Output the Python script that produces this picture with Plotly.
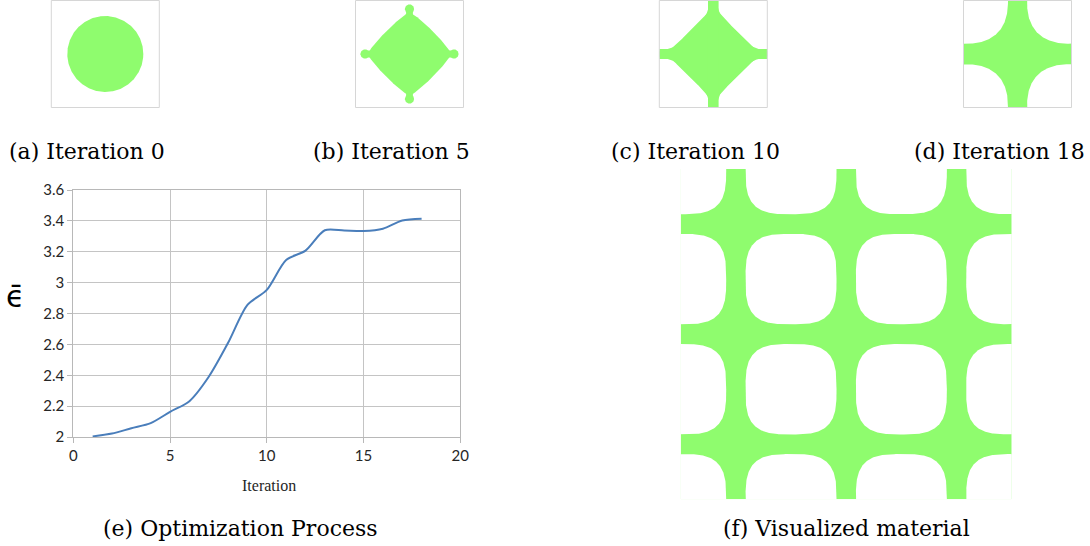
import numpy as np
import plotly.graph_objects as go

# ---------------- data ----------------
iterations = [1, 2, 3, 4, 5, 6, 7, 8, 9, 10, 11, 12, 13, 14, 15, 16, 17, 18]
epsilon_bar = [2.004, 2.022, 2.057, 2.090, 2.163, 2.232, 2.390, 2.610, 2.856, 2.953,
               3.147, 3.207, 3.339, 3.337, 3.334, 3.349, 3.402, 3.414]
x_ticks = [0, 5, 10, 15, 20]
y_ticks = [2, 2.2, 2.4, 2.6, 2.8, 3, 3.2, 3.4, 3.6]
captions = ["(a) Iteration 0", "(b) Iteration 5", "(c) Iteration 10", "(d) Iteration 18",
            "(e) Optimization Process", "(f) Visualized material"]

W, H = 1090, 546
GREEN = "#8ffc6e"
BOX = "#d6d6d6"


def dom_x(a, b):
    return [a / W, b / W]


def dom_y(top, bottom):
    return [1 - bottom / H, 1 - top / H]


def squircle(cx, cy, a, b, p, n=400):
    t = np.linspace(0, 2 * np.pi, n)
    c, s = np.cos(t), np.sin(t)
    x = cx + a * np.sign(c) * np.abs(c) ** (2 / p)
    y = cy + b * np.sign(s) * np.abs(s) ** (2 / p)
    return x, y


fig = go.Figure()

# ---------------- (e) line chart ----------------
fig.add_trace(go.Scatter(
    x=iterations, y=epsilon_bar, mode="lines",
    line=dict(color="#4a7ebb", width=2, shape="spline", smoothing=0.8),
    xaxis="x", yaxis="y", showlegend=False, hoverinfo="x+y"))

# ---------------- panels (a)-(d) ----------------
panel_x = [(51.3, 159.3), (355.5, 463.5), (659.3, 767.3), (963.5, 1071.5)]
panel_top, panel_bot = 0.5, 107.5
fill_kw = dict(mode="lines", fill="toself", fillcolor=GREEN, line=dict(width=0, color=GREEN),
               showlegend=False, hoverinfo="skip")
hole_kw = dict(mode="lines", fill="toself", fillcolor="white", line=dict(width=0, color="white"),
               showlegend=False, hoverinfo="skip")

# (a) circle
x, y = squircle(0, 0, 38, 38, 2)
fig.add_trace(go.Scatter(x=x, y=y, xaxis="x2", yaxis="y2", **fill_kw))
# (b) diamond with knobs
x, y = squircle(0, 0, 42, 42, 1.15)
fig.add_trace(go.Scatter(x=x, y=y, xaxis="x3", yaxis="y3", **fill_kw))
for (kx, ky) in [(44.5, 0), (-44.5, 0), (0, 45), (0, -45)]:
    x, y = squircle(kx, ky, 4.6, 4.6, 2, 80)
    fig.add_trace(go.Scatter(x=x, y=y, xaxis="x3", yaxis="y3", **fill_kw))
    if kx != 0:
        xs = [np.sign(kx) * 36, kx, kx, np.sign(kx) * 36]
        ys = [-3.4, -3.4, 3.4, 3.4]
    else:
        xs = [-3.4, -3.4, 3.4, 3.4]
        ys = [np.sign(ky) * 36, ky, ky, np.sign(ky) * 36]
    fig.add_trace(go.Scatter(x=xs, y=ys, xaxis="x3", yaxis="y3", **fill_kw))
# (c) diamond body + thin stems + fillets
x, y = squircle(0, 0, 48, 48, 0.95, 800)
fig.add_trace(go.Scatter(x=x, y=y, xaxis="x4", yaxis="y4", **fill_kw))
x, y = squircle(0, 0, 80, 80, 0.5, 2000)
fig.add_trace(go.Scatter(x=x, y=y, xaxis="x4", yaxis="y4", **fill_kw))
fig.add_trace(go.Scatter(x=[-60, 60, 60, -60], y=[-5, -5, 5, 5], xaxis="x4", yaxis="y4", **fill_kw))
fig.add_trace(go.Scatter(x=[-5.3, 5.3, 5.3, -5.3], y=[-60, -60, 60, 60], xaxis="x4", yaxis="y4", **fill_kw))
# (d) cross = square minus four corner holes
fig.add_trace(go.Scatter(x=[-54, 54, 54, -54], y=[-54, -54, 54, 54], xaxis="x5", yaxis="y5", **fill_kw))
for (hx, hy) in [(-54, -54), (54, -54), (54, 54), (-54, 54)]:
    x, y = squircle(hx, hy, 44.5, 43.8, 2.5)
    fig.add_trace(go.Scatter(x=x, y=y, xaxis="x5", yaxis="y5", **hole_kw))

# ---------------- (f) visualized material ----------------
fx0, fx1, fy0, fy1 = 680.7, 1011.7, 169.0, 499.3
fw, fh = fx1 - fx0, fy1 - fy0
fig.add_trace(go.Scatter(x=[0, fw, fw, 0], y=[0, 0, fh, fh], xaxis="x6", yaxis="y6", **fill_kw))
for i in range(4):
    for j in range(4):
        x, y = squircle(i * fw / 3, j * fh / 3, 45.5, 45.2, 3.2)
        fig.add_trace(go.Scatter(x=x, y=y, xaxis="x6", yaxis="y6", **hole_kw))

# ---------------- layout ----------------
axis_off = dict(showgrid=False, zeroline=False, showticklabels=False, ticks="",
                showline=False, fixedrange=True, automargin=False)
tick_font = dict(family="Lato", size=15, color="#262626")
layout = dict(
    width=W, height=H, margin=dict(l=0, r=0, t=0, b=0, pad=0, autoexpand=False),
    paper_bgcolor="white", plot_bgcolor="white", showlegend=False,
    xaxis=dict(domain=dom_x(73.3, 460.3), range=[0, 20], tickvals=x_ticks,
               showgrid=True, gridcolor="#c4c4c4", gridwidth=1, zeroline=False,
               showline=True, linecolor="#b8b8b8", linewidth=1, mirror=True,
               ticks="outside", ticklen=5, tickcolor="#b8b8b8", automargin=False,
               tickfont=tick_font, anchor="y"),
    yaxis=dict(domain=dom_y(190, 437), range=[2, 3.6], tickvals=y_ticks,
               ticktext=[("%g" % v) for v in y_ticks],
               showgrid=True, gridcolor="#c4c4c4", gridwidth=1, zeroline=False,
               showline=True, linecolor="#b8b8b8", linewidth=1, mirror=True,
               ticks="outside", ticklen=5, tickcolor="#b8b8b8", automargin=False,
               tickfont=tick_font, anchor="x"),
)
for k, (a, b) in enumerate(panel_x):
    n = k + 2
    layout["xaxis%d" % n] = dict(axis_off, domain=dom_x(a, b), range=[-54, 54], anchor="y%d" % n)
    layout["yaxis%d" % n] = dict(axis_off, domain=dom_y(panel_top, panel_bot),
                                 range=[-53.5, 53.5], anchor="x%d" % n)
layout["xaxis6"] = dict(axis_off, domain=dom_x(fx0, fx1), range=[0, fw], anchor="y6")
layout["yaxis6"] = dict(axis_off, domain=dom_y(fy0, fy1), range=[0, fh], anchor="x6")

shapes = []
for (a, b) in panel_x:
    shapes.append(dict(type="rect", xref="paper", yref="paper", x0=a / W, x1=b / W,
                       y0=1 - panel_bot / H, y1=1 - panel_top / H,
                       line=dict(color=BOX, width=1), layer="above"))
layout["shapes"] = shapes

cap_pos = [(87, 151), (391, 151), (695, 151), (999, 151), (240, 528), (846, 528)]
ann = []
for text, (cx, cy) in zip(captions, cap_pos):
    ann.append(dict(text=text, x=cx / W, y=1 - cy / H, xref="paper", yref="paper",
                    showarrow=False, xanchor="center", yanchor="middle",
                    font=dict(family="DejaVu Serif", size=22, color="black")))
ann.append(dict(text="Iteration", x=269 / W, y=1 - 486 / H, xref="paper", yref="paper",
                showarrow=False, xanchor="center", yanchor="middle",
                font=dict(family="Liberation Serif", size=16, color="#262626")))
ann.append(dict(text="\u03f5\u0304", x=15 / W, y=1 - 296 / H, xref="paper", yref="paper",
                showarrow=False, xanchor="center", yanchor="middle",
                font=dict(family="DejaVu Sans", size=30, color="black")))
layout["annotations"] = ann

fig.update_layout(**layout)
fig.write_html("out.html", config={"displayModeBar": False},
               post_script="document.body.style.margin='0';document.body.style.overflow='hidden';")
